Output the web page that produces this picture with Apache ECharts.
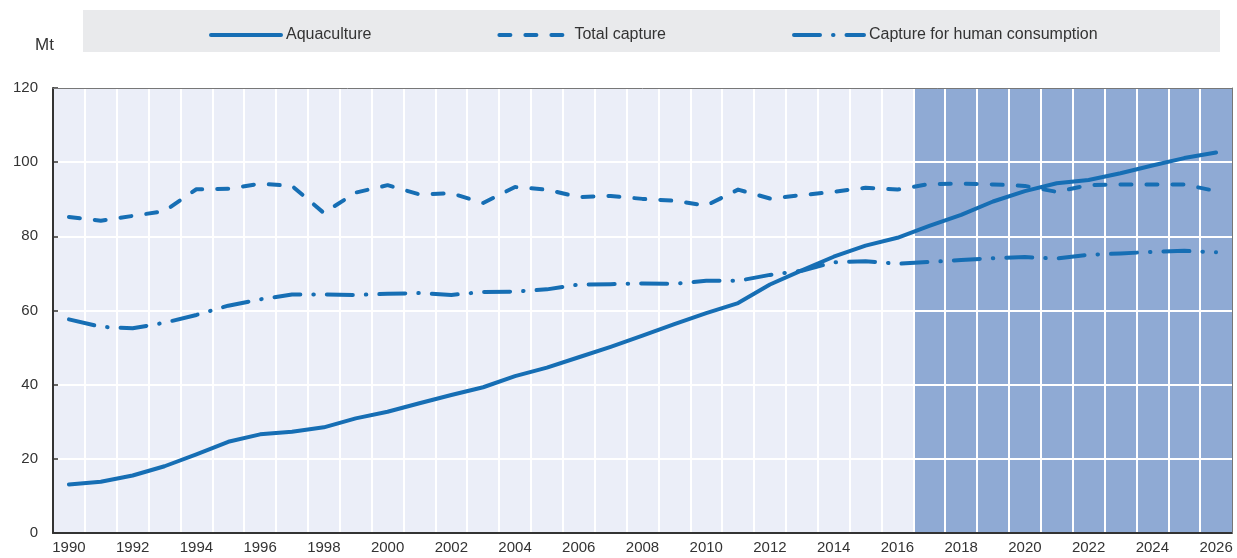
<!DOCTYPE html>
<html>
<head>
  <meta charset="UTF-8">
  <script src="https://cdn.jsdelivr.net/npm/echarts@6/dist/echarts.min.js"></script>
  <style>
    html, body { margin: 0; padding: 0; background: #fff; }
    #main { width: 1237px; height: 558px; }
  </style>
</head>
<body>
  <div id="main"></div>
  <script>
    // years on the x axis
    var years = [];
    for (var y = 1990; y <= 2026; y++) years.push(String(y));

    // Mt
    var aquaculture = [13.1, 13.8, 15.5, 18.0, 21.2, 24.6, 26.6, 27.3, 28.5, 30.9,
                       32.7, 35.0, 37.2, 39.3, 42.3, 44.6, 47.4, 50.2, 53.2, 56.3,
                       59.3, 62.0, 67.0, 70.8, 74.5, 77.5, 79.6, 82.8, 85.8, 89.4,
                       92.2, 94.3, 95.2, 97.0, 99.1, 101.1, 102.6];
    var totalCapture = [85.2, 84.2, 85.5, 86.8, 92.7, 92.8, 94.2, 93.6, 86.3, 91.8,
                        93.8, 91.3, 91.6, 89.0, 93.3, 92.6, 90.6, 90.9, 90.1, 89.6,
                        88.3, 92.6, 90.2, 91.1, 92.0, 93.1, 92.6, 94.1, 94.2, 94.0,
                        93.6, 92.0, 93.8, 94.0, 94.0, 94.0, 92.2];
    var humanCapture = [57.6, 55.6, 55.2, 56.7, 58.8, 61.3, 63.0, 64.3, 64.3, 64.2,
                        64.5, 64.7, 64.2, 65.0, 65.1, 65.7, 67.0, 67.1, 67.3, 67.2,
                        68.0, 68.0, 69.6, 70.7, 73.0, 73.3, 72.6, 73.1, 73.6, 74.1,
                        74.4, 74.0, 75.0, 75.4, 75.8, 76.1, 75.7];

    var yTicks = [0, 20, 40, 60, 80, 100, 120];
    var projectionStart = 2017;   // shaded projection period

    var blue = '#166EB4';
    var font = "'Liberation Sans', Arial, sans-serif";
    var yMax = yTicks[yTicks.length - 1];

    var shade = years.map(function (y) { return Number(y) >= projectionStart ? yMax : null; });

    var myChart = echarts.init(document.getElementById('main'));

    myChart.setOption({
      animation: false,
      textStyle: { fontFamily: font },
      title: {
        text: 'Mt',
        left: 30,
        top: 32,
        textStyle: { fontFamily: font, fontSize: 17, fontWeight: 'normal', color: '#333' }
      },
      graphic: [{
        type: 'rect',
        left: 83,
        top: 10,
        z: -1,
        shape: { width: 1137, height: 42 },
        style: { fill: '#E9EAEC' }
      }],
      legend: {
        data: ['Aquaculture', 'Total capture', 'Capture for human consumption'],
        left: 204,
        top: 22,
        itemWidth: 70,
        itemHeight: 18,
        itemGap: 126,
        itemStyle: { opacity: 0 },
        lineStyle: { width: 4, cap: 'round' },
        textStyle: { fontFamily: font, fontSize: 16, color: '#333' }
      },
      grid: {
        left: 53,
        right: 5,
        top: 88,
        bottom: 25,
        show: true,
        backgroundColor: '#EBEEF8',
        borderWidth: 0
      },
      xAxis: [{
        type: 'category',
        data: years,
        z: 1.5,
        axisLine: { lineStyle: { color: '#333', width: 2 } },
        axisTick: { inside: true, length: 5, interval: 0, lineStyle: { color: '#333', width: 1.5 } },
        axisLabel: { interval: 1, margin: 7, fontSize: 15, color: '#333', fontFamily: font },
        splitLine: { show: true, interval: 0, showMinLine: false, showMaxLine: false,
                     lineStyle: { color: '#fff', width: 2 } }
      }, {
        type: 'category',
        data: years,
        position: 'top',
        z: 1.6,
        axisLine: { onZero: false, lineStyle: { color: '#777', width: 1 } },
        axisTick: { show: false },
        axisLabel: { show: false },
        splitLine: { show: false }
      }],
      yAxis: [{
        type: 'value',
        min: 0,
        max: yMax,
        interval: 20,
        z: 1.5,
        axisLine: { show: true, lineStyle: { color: '#333', width: 2 } },
        axisTick: { show: true, inside: true, length: 5, lineStyle: { color: '#333', width: 1.5 } },
        axisLabel: { margin: 15, fontSize: 15, color: '#333', fontFamily: font },
        splitLine: { show: true, showMinLine: false, showMaxLine: false,
                     lineStyle: { color: '#fff', width: 2 } }
      }, {
        type: 'value',
        min: 0,
        max: yMax,
        interval: 20,
        position: 'right',
        z: 1.6,
        axisLine: { show: true, onZero: false, lineStyle: { color: '#777', width: 1 } },
        axisTick: { show: false },
        axisLabel: { show: false },
        splitLine: { show: false }
      }],
      series: [
        {
          name: 'projection',
          type: 'bar',
          data: shade,
          z: 1,
          barWidth: '100%',
          silent: true,
          itemStyle: { color: '#8FAAD4' }
        },
        {
          name: 'Aquaculture',
          type: 'line',
          data: aquaculture,
          z: 3,
          symbol: 'none',
          color: blue,
          lineStyle: { color: blue, width: 4, cap: 'round', join: 'round' }
        },
        {
          name: 'Total capture',
          type: 'line',
          data: totalCapture,
          z: 3,
          symbol: 'none',
          color: blue,
          lineStyle: { color: blue, width: 4, type: [11, 15], cap: 'round', join: 'round' }
        },
        {
          name: 'Capture for human consumption',
          type: 'line',
          data: humanCapture,
          z: 3,
          symbol: 'none',
          color: blue,
          lineStyle: { color: blue, width: 4, type: [26, 13, 0.5, 13], cap: 'round', join: 'round' }
        }
      ]
    });
  </script>
</body>
</html>
